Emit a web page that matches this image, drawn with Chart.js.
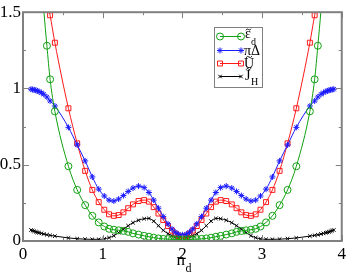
<!DOCTYPE html>
<html>
<head>
<meta charset="utf-8">
<script src="https://cdn.jsdelivr.net/npm/chart.js@4.4.1/dist/chart.umd.min.js"></script>
<style>
  html, body { margin: 0; padding: 0; background: #fff; }
  #wrap { width: 349px; height: 275px; }
</style>
</head>
<body>
<div id="wrap"><canvas id="chart"></canvas></div>
<script>
// n_d grid shared by all curves
const nd = [0.10,0.12,0.14,0.16,0.18,0.20,0.23,0.26,0.30,0.34,0.40,0.57,0.68,0.78,0.87,0.95,1.02,1.08,1.14,1.20,1.26,1.32,1.38,1.45,1.52,1.58,1.64,1.70,1.76,1.82,1.87,1.91,1.95,2.00,
            2.05,2.09,2.13,2.18,2.24,2.30,2.36,2.42,2.48,2.55,2.62,2.68,2.74,2.80,2.86,2.92,2.98,3.05,3.13,3.22,3.32,3.43,3.60,3.66,3.70,3.74,3.77,3.80,3.82,3.84,3.86,3.88,3.90];

const epsD = [2.60,2.48,2.36,2.24,2.10,1.96,1.75,1.52,1.28,1.06,0.85,0.49,0.335,0.235,0.165,0.122,0.095,0.080,0.074,0.070,0.066,0.060,0.050,0.042,0.034,0.028,0.022,0.017,0.014,0.012,0.011,0.010,0.010,0.010,
              0.010,0.010,0.011,0.012,0.014,0.017,0.022,0.028,0.034,0.042,0.050,0.060,0.066,0.070,0.074,0.080,0.095,0.122,0.165,0.235,0.335,0.49,0.85,1.06,1.28,1.52,1.75,1.96,2.10,2.24,2.36,2.48,2.60];

const piDelta = [0.995,0.993,0.991,0.988,0.984,0.980,0.972,0.962,0.944,0.918,0.885,0.745,0.63,0.525,0.42,0.34,0.295,0.268,0.262,0.275,0.298,0.325,0.347,0.360,0.350,0.318,0.268,0.215,0.160,0.112,0.078,0.058,0.045,0.040,
                 0.045,0.058,0.078,0.112,0.160,0.215,0.268,0.318,0.350,0.360,0.347,0.325,0.298,0.275,0.262,0.268,0.295,0.34,0.42,0.525,0.63,0.745,0.885,0.918,0.944,0.962,0.972,0.980,0.984,0.988,0.991,0.993,0.995];

const uT = [2.10,2.05,2.00,1.95,1.90,1.84,1.76,1.68,1.58,1.48,1.30,0.87,0.64,0.46,0.335,0.255,0.205,0.175,0.165,0.170,0.188,0.215,0.240,0.262,0.268,0.258,0.222,0.180,0.138,0.098,0.068,0.048,0.035,0.028,
            0.035,0.048,0.068,0.098,0.138,0.180,0.222,0.258,0.268,0.262,0.240,0.215,0.188,0.170,0.165,0.175,0.205,0.255,0.335,0.46,0.64,0.87,1.30,1.48,1.58,1.68,1.76,1.84,1.90,1.95,2.00,2.05,2.10];

const jH = [0.072,0.068,0.064,0.060,0.057,0.054,0.050,0.046,0.041,0.037,0.032,0.020,0.015,0.012,0.011,0.011,0.014,0.022,0.035,0.055,0.078,0.100,0.120,0.136,0.146,0.148,0.130,0.100,0.070,0.048,0.035,0.028,0.024,0.022,
            0.024,0.028,0.035,0.048,0.070,0.100,0.130,0.148,0.146,0.136,0.120,0.100,0.078,0.055,0.035,0.022,0.014,0.011,0.011,0.012,0.015,0.020,0.032,0.037,0.041,0.046,0.050,0.054,0.057,0.060,0.064,0.068,0.072];

const xTicks = [0, 1, 2, 3, 4];
const yTicks = [0, 0.5, 1, 1.5];

const series = [
  { vals: epsD, color: '#11a011', style: 'circle', r: 3.5 },
  { vals: piDelta, color: '#1a1aff', style: 'star', r: 3 },
  { vals: uT, color: '#ff1a1a', style: 'rect', r: 3.5 },
  { vals: jH, color: '#000000', style: 'crossRot', r: 2.5 }
];

const serif = '"Liberation Serif", "DejaVu Serif", serif';

// small hand drawn tilde accent
function tilde(ctx, cx, cy, w) {
  ctx.beginPath();
  ctx.moveTo(cx - w / 2, cy + 0.8);
  ctx.quadraticCurveTo(cx - w / 4, cy - 1.6, cx, cy);
  ctx.quadraticCurveTo(cx + w / 4, cy + 1.6, cx + w / 2, cy - 0.8);
  ctx.stroke();
}

// inward ticks, frame, axis title and legend (grace style)
const decor = {
  id: 'decor',
  afterDraw(chart) {
    const { ctx, chartArea: a, scales: { x, y } } = chart;
    ctx.save();
    ctx.strokeStyle = '#808080';
    ctx.lineWidth = 1;
    ctx.beginPath();
    for (let v = 0; v <= 4.001; v += 0.5) {
      const px = Math.round(x.getPixelForValue(v)) + 0.5;
      const len = Number.isInteger(v) ? 6 : 3;
      ctx.moveTo(px, a.bottom); ctx.lineTo(px, a.bottom - len);
      ctx.moveTo(px, a.top); ctx.lineTo(px, a.top + len);
    }
    for (let v = 0; v <= 1.501; v += 0.25) {
      const py = Math.round(y.getPixelForValue(v)) + 0.5;
      const len = (v * 2) % 1 === 0 ? 6 : 3;
      ctx.moveTo(a.left, py); ctx.lineTo(a.left + len, py);
      ctx.moveTo(a.right, py); ctx.lineTo(a.right - len, py);
    }
    ctx.stroke();
    ctx.lineWidth = 2;
    ctx.strokeRect(a.left, a.top, a.right - a.left, a.bottom - a.top);

    // axis title n_d
    ctx.fillStyle = '#000';
    ctx.textBaseline = 'alphabetic';
    ctx.font = '17px ' + serif;
    const cx = (a.left + a.right) / 2 - 6;
    ctx.fillText('n', cx, 265);
    ctx.font = '12px ' + serif;
    ctx.fillText('d', cx + 9, 272);

    // legend box
    const lx = 214, ly = 27, lw = 48, lh = 60;
    ctx.fillStyle = '#fff';
    ctx.fillRect(lx, ly, lw, lh);
    ctx.strokeStyle = '#808080';
    ctx.lineWidth = 1;
    ctx.strokeRect(lx + 0.5, ly + 0.5, lw, lh);
    const rows = [36, 50, 63, 76];
    series.forEach((s, i) => {
      const yy = rows[i] + 0.5;
      ctx.strokeStyle = s.color;
      ctx.lineWidth = 1;
      ctx.beginPath(); ctx.moveTo(220, yy); ctx.lineTo(241, yy); ctx.stroke();
      ctx.fillStyle = 'rgba(0,0,0,0)';
      [220, 241].forEach(px => {
        Chart.helpers.drawPoint(ctx, { pointStyle: s.style, radius: s.r, rotation: 0, borderWidth: 1 }, px, yy);
      });
    });
    ctx.fillStyle = '#000';
    ctx.strokeStyle = '#000';
    ctx.lineWidth = 0.9;
    ctx.font = '14px ' + serif;
    ctx.fillText('\u03b5', 245, 38);
    tilde(ctx, 248.5, 29.5, 5);
    ctx.font = '10px ' + serif;
    ctx.fillText('d', 251, 45);
    ctx.font = '14px ' + serif;
    ctx.fillText('\u03c0\u0394', 244, 55);
    ctx.fillText('U', 244, 68);
    tilde(ctx, 249, 57, 6);
    ctx.fillText('J', 245, 80);
    tilde(ctx, 248.5, 69, 5);
    ctx.font = '10px ' + serif;
    ctx.fillText('H', 251, 85);
    ctx.restore();
  }
};

new Chart(document.getElementById('chart'), {
  type: 'line',
  data: {
    datasets: series.map(s => ({
      data: nd.map((n, i) => ({ x: n, y: s.vals[i] })),
      borderColor: s.color,
      borderWidth: 1,
      pointStyle: s.style,
      pointRadius: s.r,
      pointBorderWidth: 1,
      pointBorderColor: s.color,
      pointBackgroundColor: 'rgba(0,0,0,0)',
      cubicInterpolationMode: 'monotone',
      clip: 0,
      fill: false
    }))
  },
  options: {
    responsive: true,
    maintainAspectRatio: false,
    animation: false,
    layout: { padding: { top: 6, right: 4, left: 0, bottom: 0 } },
    plugins: { legend: { display: false }, tooltip: { enabled: false } },
    scales: {
      x: {
        type: 'linear',
        min: 0, max: 4,
        afterFit: s => { s.height = 34; },
        afterBuildTicks: s => { s.ticks = xTicks.map(v => ({ value: v })); },
        grid: { display: false, drawTicks: false },
        border: { display: false },
        ticks: { color: '#000', padding: 3, maxRotation: 0, font: { family: serif, size: 17 }, callback: v => String(v) }
      },
      y: {
        type: 'linear',
        min: 0, max: 1.5,
        afterFit: s => { s.width = 23; },
        afterBuildTicks: s => { s.ticks = yTicks.map(v => ({ value: v })); },
        grid: { display: false, drawTicks: false },
        border: { display: false },
        ticks: { color: '#000', padding: 2, font: { family: serif, size: 17 }, callback: v => String(v) }
      }
    }
  },
  plugins: [decor]
});
</script>
</body>
</html>
